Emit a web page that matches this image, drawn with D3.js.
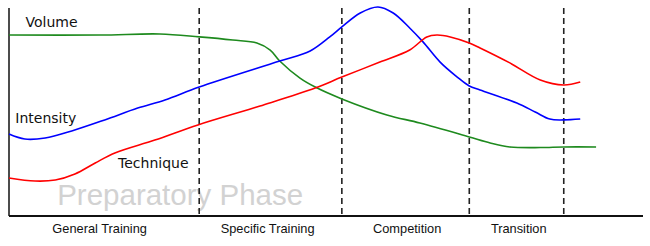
<!DOCTYPE html>
<html><head><meta charset="utf-8">
<script src="https://cdn.jsdelivr.net/npm/d3@7"></script>
<style>html,body{margin:0;padding:0;background:#fff;}svg{display:block;}</style>
</head><body>
<script>
// Training periodization curves (x: season progress 0-100, y: relative level 0-100)
const volumeX    = [0, 14.4, 23.8, 30, 35.3, 39.1, 41.2, 42.7, 45.9, 48.3, 52.5, 59.6, 64.8, 72.6, 75.9, 79, 83.8, 87.5, 92.6];
const volumeY    = [87, 87, 87.5, 86.1, 84.6, 83.2, 79.8, 74.5, 66.3, 62, 56.3, 48.6, 44.7, 38, 35.1, 33.2, 32.9, 33.2, 33.2];
const intensityX = [0, 2.5, 5.7, 9.9, 15.1, 20.3, 24.6, 30, 42.7, 47.5, 50.6, 52.5, 55.4, 58.2, 60.6, 63.2, 65.3, 68, 70.7, 72.6, 74.3, 80.1, 83, 85.3, 87.5, 90.1];
const intensityY = [39.4, 37, 37.5, 40.9, 46.2, 51.9, 55.8, 62, 74.5, 79.3, 86.1, 90.9, 97.6, 100.5, 97.6, 90.4, 83.7, 74, 66.8, 62.5, 60.6, 54.3, 50, 46.6, 46.2, 46.6];
const techniqueX = [0, 4.1, 7.3, 10.4, 13.6, 16.7, 23, 29.8, 39.6, 48.3, 52.5, 58.5, 63.2, 65.9, 67.5, 69.6, 72.6, 74.3, 79, 83.8, 87.5, 90.1];
const techniqueY = [18.3, 16.8, 17.3, 20.2, 25.5, 30.3, 36.5, 43.8, 52.9, 61.5, 66.8, 74, 79.8, 86.1, 87, 86.1, 83.2, 80.8, 73.6, 65.4, 63, 64.4];
const phaseBounds = [30, 52.5, 72.6, 87.5];
const phaseLabels = ["General Training", "Specific Training", "Competition", "Transition"];
const phaseLabelX = [14.3, 40.8, 62.8, 80.4];
const seriesNames = ["Volume", "Intensity", "Technique"];
const seriesLabelX = [2.6, 1.0, 17.2];
const seriesLabelY = [90.7, 44.6, 23];
const periodTitle = "Preparatory Phase";

const W = 650, H = 246;
const svg = d3.select("body").append("svg").attr("width", W).attr("height", H);
const x = d3.scaleLinear().domain([0, 100]).range([9, 643]);
const y = d3.scaleLinear().domain([0, 100]).range([216, 8]);

// watermark title
svg.append("text").attr("x", x(7.6)).attr("y", 205)
  .attr("font-family", "Liberation Sans, Arial, sans-serif").attr("font-size", 29.5)
  .attr("fill", "#d2d2d2").text(periodTitle);

// phase boundaries
svg.selectAll("line.phase").data(phaseBounds).enter().append("line")
  .attr("class", "phase")
  .attr("x1", d => x(d)).attr("x2", d => x(d))
  .attr("y1", y(100)).attr("y2", y(0))
  .attr("stroke", "#222").attr("stroke-width", 1.6).attr("stroke-dasharray", "6,4");

// axes
svg.append("line").attr("x1", x(0)).attr("x2", x(0)).attr("y1", y(100)).attr("y2", y(0))
  .attr("stroke", "#111").attr("stroke-width", 1.5);
svg.append("line").attr("x1", x(0)).attr("x2", x(100)).attr("y1", y(0)).attr("y2", y(0))
  .attr("stroke", "#111").attr("stroke-width", 1.8);

// phase labels
svg.selectAll("text.phase").data(phaseLabels).enter().append("text")
  .attr("x", (d, i) => x(phaseLabelX[i])).attr("y", 233)
  .attr("text-anchor", "middle")
  .attr("font-family", "Liberation Sans, Arial, sans-serif").attr("font-size", 12.8)
  .attr("fill", "#111").text(d => d);

// series
const series = [
  {xs: volumeX, ys: volumeY, color: "#1e8a1e"},
  {xs: intensityX, ys: intensityY, color: "#0000ff"},
  {xs: techniqueX, ys: techniqueY, color: "#ff0000"}
];
const line = d3.line().x(d => x(d[0])).y(d => y(d[1])).curve(d3.curveCatmullRom.alpha(0.5));
series.forEach(s => {
  svg.append("path").datum(d3.zip(s.xs, s.ys)).attr("d", line)
    .attr("fill", "none").attr("stroke", s.color).attr("stroke-width", 1.6);
});

// series labels
svg.selectAll("text.series").data(seriesNames).enter().append("text")
  .attr("x", (d, i) => x(seriesLabelX[i])).attr("y", (d, i) => y(seriesLabelY[i]))
  .attr("font-family", "'DejaVu Sans', sans-serif").attr("font-size", 14)
  .attr("fill", "#111").text(d => d);
</script>
</body></html>
